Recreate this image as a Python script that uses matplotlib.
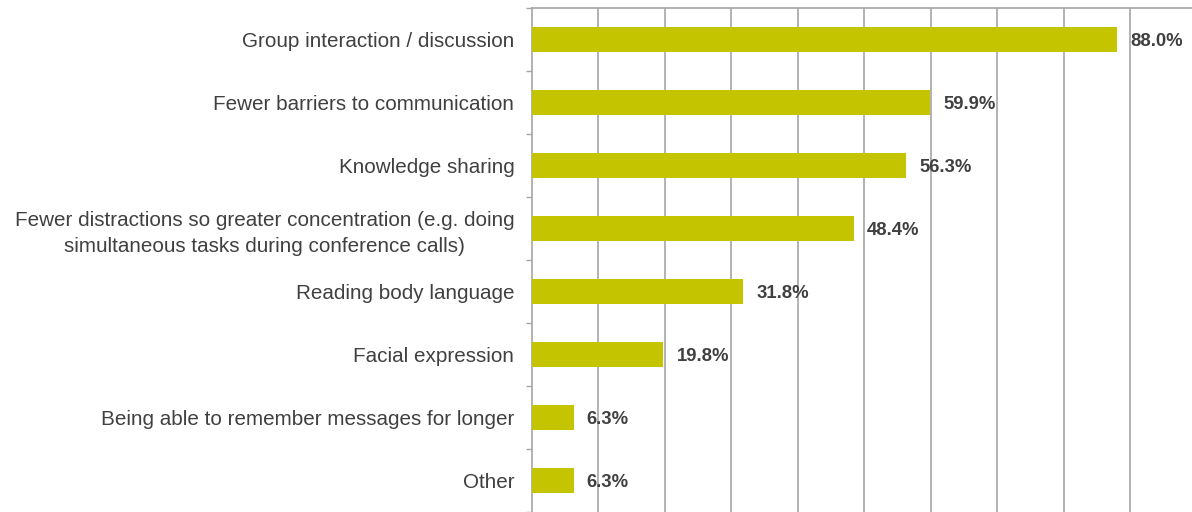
import matplotlib.pyplot as plt
import numpy as np

categories = [
    'Group interaction / discussion',
    'Fewer barriers to communication',
    'Knowledge sharing',
    'Fewer distractions so greater concentration (e.g. doing\nsimultaneous tasks during conference calls)',
    'Reading body language',
    'Facial expression',
    'Being able to remember messages for longer',
    'Other',
]
values = [88.0, 59.9, 56.3, 48.4, 31.8, 19.8, 6.3, 6.3]

bar_color = '#C4C400'
grid_color = '#A6A6A6'
text_color = '#404040'

plt.rcParams['font.family'] = ['Liberation Sans', 'DejaVu Sans']

fig = plt.figure(figsize=(11.92, 5.12), dpi=100)
# axes runs slightly past the right and bottom edges, like the original
ax = fig.add_axes([531.7 / 1192, 0.0, 665 / 1192, 504 / 512])

y = np.arange(len(categories))
ax.barh(y, values, height=0.4, color=bar_color, zorder=3)

for yi, v in zip(y, values):
    ax.annotate(f'{v:.1f}%', (v, yi), xytext=(9.4, -1.5), textcoords='offset points',
                va='center', ha='left', fontsize=13.3, fontweight='bold',
                color=text_color, zorder=4)

ax.set_xlim(0, 100)
ax.set_ylim(len(categories) - 0.5, -0.5)
ax.set_xticks(np.arange(10, 101, 10))
ax.xaxis.grid(True, color=grid_color, linewidth=1.2, zorder=0)
ax.tick_params(axis='x', length=0, labelbottom=False)

# category labels placed between boundary ticks
ax.set_yticks(np.arange(-0.5, len(categories)), minor=False)
ax.set_yticklabels([])
ax.set_yticks(y, minor=True)
ax.set_yticklabels(categories, minor=True, fontsize=14.9, color=text_color,
                   multialignment='center', linespacing=1.45)
ax.tick_params(axis='y', which='major', length=4, width=1.0, color=grid_color,
               direction='out')
ax.tick_params(axis='y', which='minor', length=0, pad=12.5)
for lbl in ax.get_yticklabels(minor=True):
    lbl.set_verticalalignment('center_baseline')

for side in ['right', 'bottom']:
    ax.spines[side].set_visible(False)
for side in ['left', 'top']:
    ax.spines[side].set_color(grid_color)
    ax.spines[side].set_linewidth(1.2)

fig.savefig('out.png', dpi=100)
